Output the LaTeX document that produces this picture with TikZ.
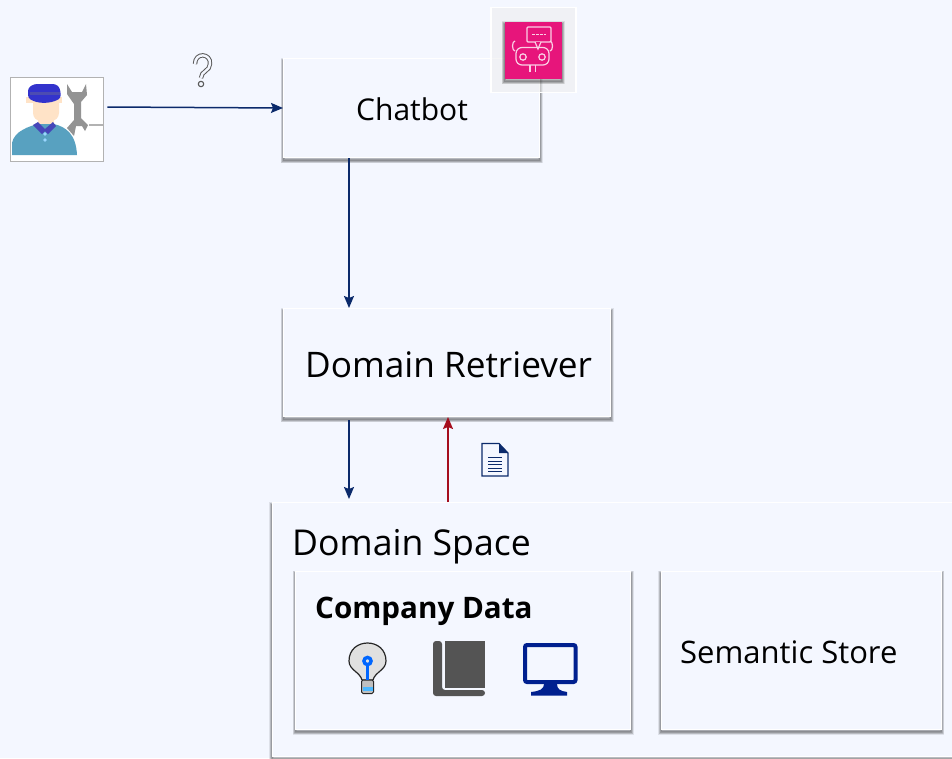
\documentclass[tikz,border=0pt]{standalone}
\usepackage{fontspec}
\setmainfont{Open Sans}
\usetikzlibrary{arrows.meta}
\definecolor{pagebg}{HTML}{F4F7FF}
\definecolor{flowblue}{HTML}{0B2A6B}
\definecolor{flowred}{HTML}{A50E1E}
\definecolor{iconblue}{HTML}{00208F}
\definecolor{botpink}{HTML}{E7157B}
\tikzset{
  ring/.style={preaction={draw=black,draw opacity=.085,line width=#1,transform canvas={yshift=-2.5pt}}},
  softshadow/.style={ring=6pt,ring=5pt,ring=4pt,ring=3pt,ring=2pt,ring=1pt},
  box/.style={draw=white,fill=pagebg,line width=1pt,inner sep=0pt,softshadow},
  caption/.style={inner sep=0pt,anchor=base west,text=black},
  flow/.style={line width=1.5pt,color=flowblue,-{Stealth[length=12pt,width=10pt,inset=2pt]}},
  botline/.style={draw=white!80!botpink,line width=1.2pt}
}
\begin{document}
\begin{tikzpicture}[x=1pt,y=-1pt]
  \useasboundingbox (0,0) rectangle (952,758);
  \clip (0,0) rectangle (952,758);
  \fill[pagebg] (0,0) rectangle (952,758);

  % boxes
  \node[box,minimum width=256pt,minimum height=99pt] (chatbot) at (411.5,108) {};
  \node[box,minimum width=327pt,minimum height=108pt] (retriever) at (447,362.5) {};
  \node[box,minimum width=700pt,minimum height=254pt] (space) at (622,629.5) {};
  \node[box,minimum width=335pt,minimum height=158pt] (company) at (463,650) {};
  \node[box,minimum width=280pt,minimum height=158pt] (store) at (801,650) {};

  % texts
  \node[caption,font=\fontsize{30}{34}\selectfont] (chatbottext) at (356,120) {Chatbot};
  \node[caption,font=\fontsize{35.2}{38}\selectfont] (retrievertext) at (305,377) {Domain Retriever};
  \node[caption,font=\fontsize{35.6}{38}\selectfont] (spacetext) at (292,555) {Domain Space};
  \node[caption,font=\fontsize{29.6}{34}\selectfont\bfseries] (companytext) at (315,618) {Company Data};
  \node[caption,font=\fontsize{31}{34}\selectfont] (storetext) at (680,663) {Semantic Store};

  % worker
  \node[draw=black!30,fill=white,line width=.6pt,minimum width=93pt,minimum height=84pt,inner sep=0pt]
    (worker) at (56.5,119) {};
  \fill[gray!60] (89,124) rectangle (103,125.5);
  \fill[gray!85] (67,84) -- (67,94) -- (74,104) -- (74,120) -- (67,128) -- (74,136)
    -- (76,126) -- (82,126) -- (85,131) -- (88,125) -- (81,118) -- (81,102) -- (87,95) -- (86,84)
    -- (82,92) -- (72,92) -- cycle;
  \fill[orange!22!white] (26,97) rectangle (62,103);
  \fill[orange!22!white,rounded corners=8pt] (33,92) rectangle (59,121);
  \fill[orange!22!white] (38,112) rectangle (54,128);
  \fill[blue!30!cyan!45!gray!90] (12,155) -- (12,143) .. controls (14,131) and (30,126) .. (38,124)
    -- (54,124) .. controls (66,127) and (76,134) .. (77,155) -- cycle;
  \fill[blue!45!gray] (33,125) -- (38,122) -- (45,129) -- (53,122) -- (56,126) -- (48,134) -- (45,131) -- (42,134) -- cycle;
  \fill[blue!40!cyan!40!white] (45,134) circle (1.8);
  \fill[blue!40!cyan!40!white] (45,140) circle (1.8);
  \fill[blue!60!gray,rounded corners=3pt] (28,88) -- (34,84) -- (56,84) -- (60,88) -- (61,98) .. controls (50,104) and (38,104) .. (28,98) -- cycle;
  \fill[blue!40!gray] (30,92) rectangle (60,95);

  % bot icon
  \node[draw=white,fill=black!7,fill opacity=.5,line width=1.6pt,minimum width=85pt,minimum height=85pt,inner sep=0pt]
    (botframe) at (533.5,50) {};
  \node[fill=botpink,inner sep=0pt,minimum size=57pt,softshadow] (boticon) at (533,50) {};
  \draw[botline,rounded corners=1pt] (527,27) rectangle (551,42);
  \draw[botline,fill=botpink] (535,42) -- (538,49) -- (541,42);
  \draw[botline,dash pattern=on 2.5pt off 1.5pt] (532,34.5) -- (546,34.5);
  \draw[botline,rounded corners=6pt] (516,47.5) rectangle (549,65);
  \draw[botline] (523,57) circle (3.2);
  \draw[botline] (542,57) circle (3.2);
  \draw[botline] (515,51) arc (90:270:2.5 and 5);
  \draw[botline] (550,51) arc (90:-90:2.5 and 5);
  \draw[botline] (530,65) -- (530,71.5);
  \draw[botline] (535.5,65) -- (535.5,71.5);

  % question mark
  \draw[draw=black!65,double=pagebg,double distance=2.4pt,line width=1pt]
    (195,64) .. controls (195,52) and (211,53) .. (210,64)
    .. controls (210,71) and (201,71) .. (201,78);
  \draw[black!65,line width=1.1pt] (201,84) circle (2.7);

  % document
  \draw[flowblue,line width=1.2pt,fill=pagebg] (482,443.5) -- (499,443.5) -- (508,453) -- (508,476) -- (482,476) -- cycle;
  \fill[flowblue] (499,443.5) -- (508,453) -- (499,453) -- cycle;
  \foreach \liney in {457.5,461,464.5,468,471.5}
    \draw[flowblue,line width=1pt] (488,\liney) -- (502,\liney);

  % bulb
  \draw[black!85,fill=black!12,line width=1.2pt]
    (362,680) .. controls (360,672) and (349,670) .. (349,661)
    .. controls (349,637) and (386,637) .. (386,661)
    .. controls (386,670) and (375,672) .. (373,680) -- cycle;
  \draw[black!85,fill=black!25,line width=1pt,rounded corners=1.5pt] (361.5,680) rectangle (373.5,693.5);
  \fill[blue!40!cyan!70] (362.5,687) rectangle (372.5,691);
  \draw[blue!60!cyan,line width=2.4pt] (367.5,665) -- (367.5,680);
  \draw[blue!60!cyan,line width=3.4pt] (367.5,661) circle (3.6);

  % book
  \fill[black!67,rounded corners=3pt] (433,641) -- (442,641) -- (442,690) -- (485,690) -- (485,696) -- (433,696) -- cycle;
  \fill[black!67] (445,641) rectangle (485,687.5);

  % monitor
  \draw[iconblue,line width=4pt,rounded corners=2pt] (525,645) rectangle (575.5,682);
  \fill[iconblue] (544,684) -- (557,684) .. controls (557,689) and (560,691) .. (567,692)
    -- (567,695.5) -- (531,695.5) -- (531,692) .. controls (540,691) and (544,689) .. (544,684) -- cycle;

  % flows
  \coordinate (downx) at (349,0);
  \coordinate (upx) at (448,0);
  \path[flow]
    (worker.east) ++(4,-12) coordinate (workerout)
    (workerout) edge (chatbot.west)
    (chatbot.south -| downx) edge (retriever.north -| downx)
    ([yshift=-3pt]retriever.south -| downx) edge ([yshift=3pt]space.north -| downx)
  ;
  \path[flow,color=flowred]
    (space.north -| upx) edge (retriever.south -| upx)
  ;
\end{tikzpicture}
\end{document}
